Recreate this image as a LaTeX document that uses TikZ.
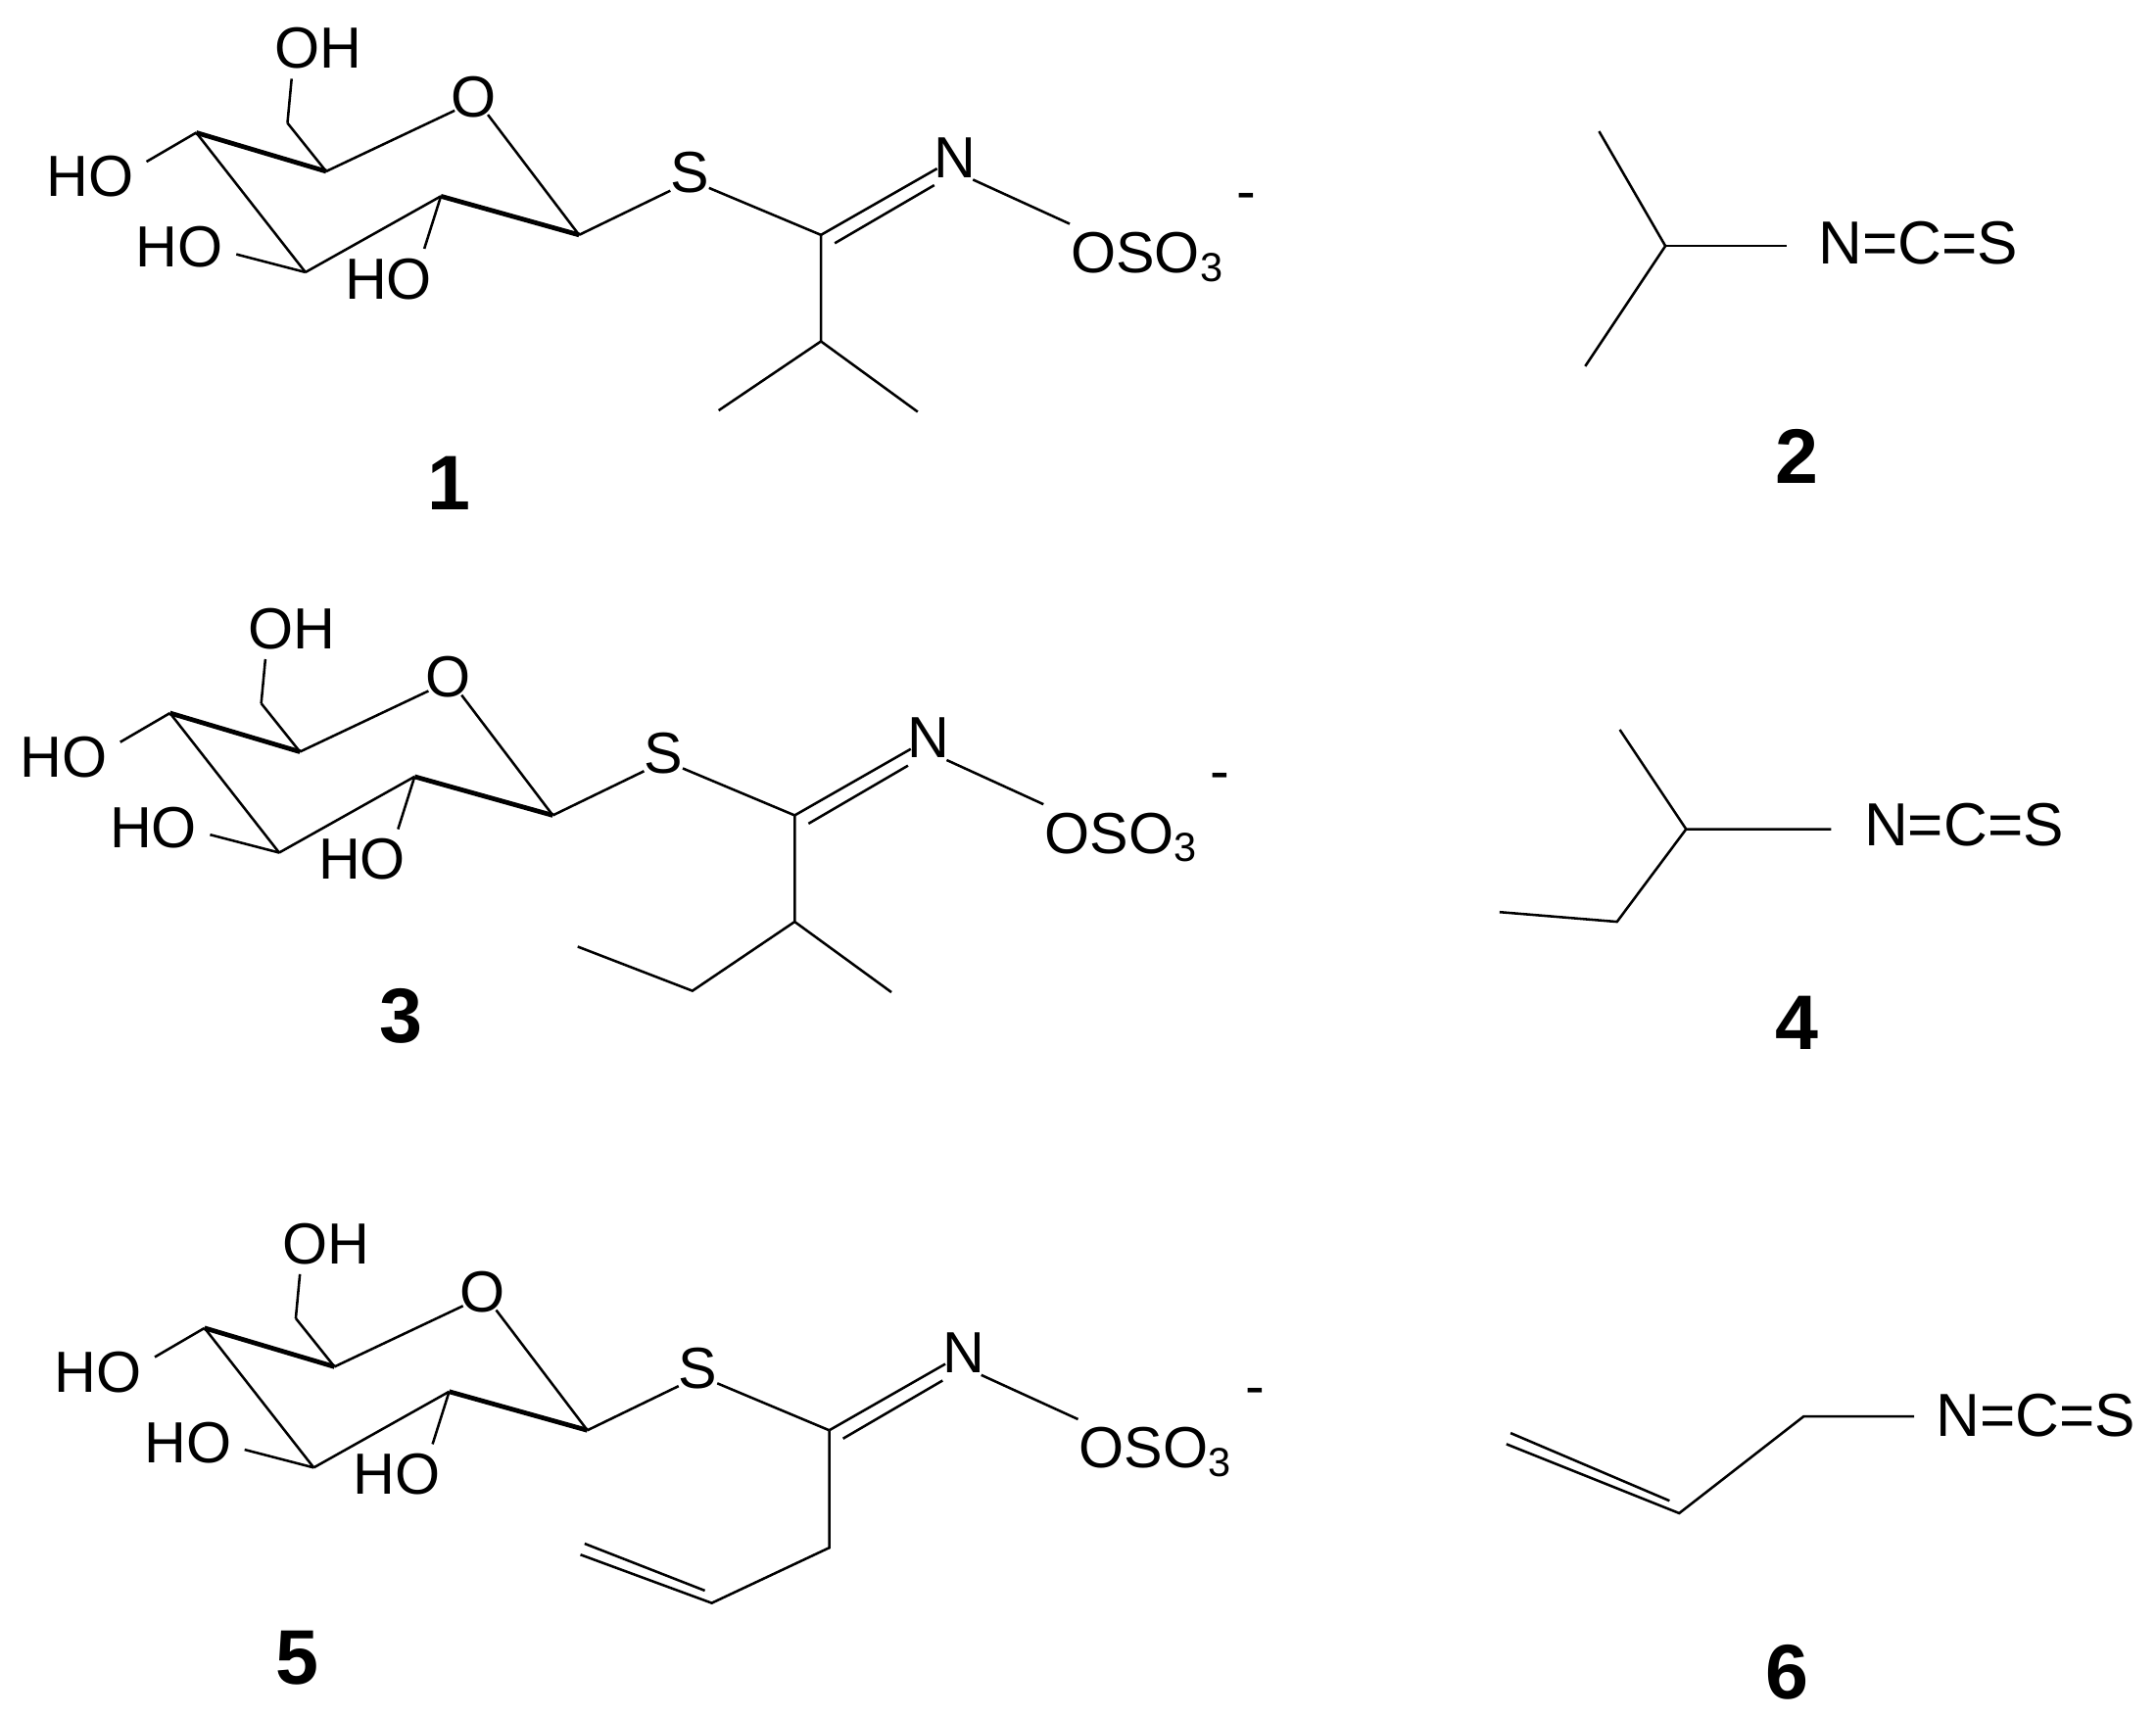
\documentclass[tikz,border=0pt]{standalone}
\usepackage{fontspec}
\setmainfont{Liberation Sans}
\begin{document}
\begin{tikzpicture}[x=0.5pt,y=-0.5pt,line width=0.9pt,
  lbl/.style={inner sep=0pt,font=\fontsize{21}{21}\selectfont},
  ncs/.style={inner sep=0pt,font=\fontsize{22}{22}\selectfont},
  num/.style={inner sep=0pt,font=\fontsize{28}{28}\selectfont\bfseries},
  bold/.style={line width=1.7pt}]
\useasboundingbox (0,0) rectangle (1560,1242);
\newcommand\glucring[2]{%
\begin{scope}[shift={(#1)}]
 \coordinate (#2c6) at (208,89); \coordinate (#2c5) at (236,124);
 \coordinate (#2c4) at (142,96); \coordinate (#2c3) at (221,197);
 \coordinate (#2c2) at (319,142); \coordinate (#2c1) at (419,170);
 \coordinate (#2cc) at (594,170);
 \node[lbl] (#2oh6) at (230,35) {OH};
 \node[lbl] (#2o) at (343,70) {O};
 \node[lbl] (#2ho4) at (65,128) {HO};
 \node[lbl] (#2ho3) at (130,179) {HO};
 \node[lbl] (#2ho2) at (281,202) {HO};
 \node[lbl] (#2s) at (499,125) {S};
 \node[lbl] (#2n) at (691,114) {N};
 \node[lbl,anchor=west] (#2oso) at (774,186) {OSO\textsubscript{3}};
 \node[lbl] (#2minus) at (902,146) {-};
 \draw (#2c6) -- (211,57);
 \draw (#2c6) -- (#2c5);
 \draw[bold] (#2c4) -- (#2c5);
 \draw (#2c5) -- (329,80);
 \draw (353,83) -- (#2c1);
 \draw[bold] (#2c1) -- (#2c2);
 \draw (#2c2) -- (#2c3);
 \draw (#2c3) -- (#2c4);
 \draw (#2c4) -- (106,117);
 \draw (#2c3) -- (171,184);
 \draw (#2c2) -- (307,180);
 \draw (#2c1) -- (485,138);
 \draw (513,136) -- (#2cc);
 \draw (#2cc) -- (678,122);
 \draw (604,176) -- (676,134);
 \draw (704,130) -- (774,162);
\end{scope}}
% molecule 1
\glucring{0,0}{a}
\draw (594,170) -- (594,247) coordinate (ach) -- (520,297);
\draw (ach) -- (664,298);
\node[num] (n1) at (325,350) {1};
% molecule 3
\glucring{-19,420}{b}
\draw (575,590) -- (575,667) coordinate (bch) -- (645,718);
\draw (bch) -- (501,717) -- (418,685);
\node[num] (n3) at (290,735) {3};
% molecule 5
\glucring{6,865}{c}
\draw (600,1035) -- (600,1120) coordinate (cch) -- (515,1160) -- (420,1125);
\draw (510,1151) -- (423,1117);
\node[num] (n5) at (215,1200) {5};
% molecule 2
\node[ncs,anchor=west] (ncs2) at (1315,176) {N=C=S};
\coordinate (d1) at (1205,178);
\draw (1157,95) -- (d1) -- (1147,265);
\draw (d1) -- (1293,178);
\node[num] (n2) at (1300,330) {2};
% molecule 4
\node[ncs,anchor=west] (ncs4) at (1348,597) {N=C=S};
\coordinate (e1) at (1220,600);
\draw (1172,528) -- (e1) -- (1325,600);
\draw (e1) -- (1170,667) -- (1085,660);
\node[num] (n4) at (1300,740) {4};
% molecule 6
\node[ncs,anchor=west] (ncs6) at (1400,1024) {N=C=S};
\draw (1385,1025) -- (1305,1025) -- (1215,1095) -- (1090,1045);
\draw (1208,1086) -- (1093,1037);
\node[num] (n6) at (1293,1210) {6};
\end{tikzpicture}
\end{document}
